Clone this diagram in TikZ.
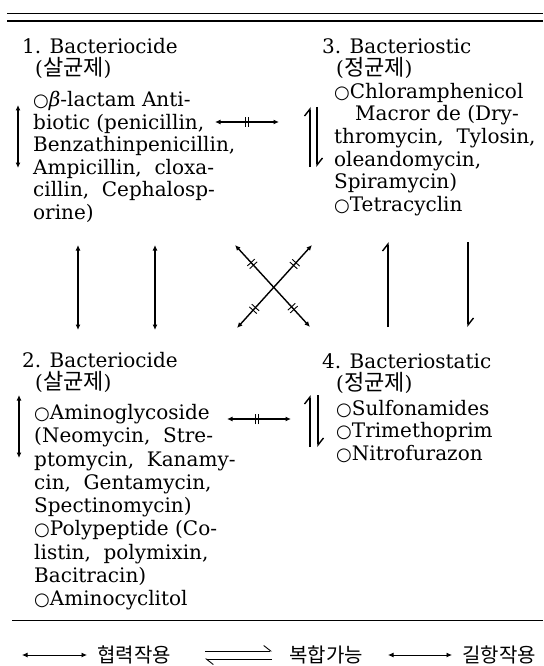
\documentclass[tikz,border=0pt]{standalone}
\usepackage{fontspec}
\setmainfont{DejaVu Serif}
\newfontfamily\kr{Noto Sans CJK KR}
\newfontfamily\symf{DejaVu Sans}
\usetikzlibrary{arrows.meta, decorations.markings}
\newcommand\wc{{\symf\fontsize{18}{22}\selectfont ○}}
\newcommand\hg[1]{{\kr\fontsize{22}{22}\selectfont #1}}
\newcommand\tickpair{\draw[-, line width=.9pt] (-1.8pt,-5pt) -- (-1.8pt,5pt) (1.8pt,-5pt) -- (1.8pt,5pt);}

\begin{document}
\begin{tikzpicture}[x=1pt, y=-1pt,
  txt/.style={anchor=north west, inner sep=0pt, align=left, font=\fontsize{20}{22.6}\selectfont},
  lgd/.style={anchor=base west, inner sep=0pt, font=\fontsize{20}{22}\selectfont\kr},
  syn/.style={{Latex[length=5.5pt,width=5pt]}-{Latex[length=5.5pt,width=5pt]}, line width=1.4pt},
  antag/.style={syn, line width=1.1pt, postaction={decorate}, decoration={markings, mark=at position #1 with {\tickpair}}},
  antagx/.style={syn, postaction={decorate}, decoration={markings, mark=at position .23 with {\tickpair}, mark=at position .77 with {\tickpair}}},
  harp/.style={-{Straight Barb[harpoon, length=7pt, width=11pt]}, line width=1.4pt}]
  \useasboundingbox (0,0) rectangle (543,666);

  % rules
  \draw[line width=.8pt] (7,13) -- (543,13);
  \draw[line width=1.3pt] (7,21) -- (543,21);
  \draw[line width=.9pt] (12,620) -- (543,620);

  % 1
  \node[txt] (t1) at (22,38) {1. Bacteriocide\\\hspace*{13pt}(\hg{살균제})};
  \node[txt] (b1) at (33,91) {\wc{\itshape β}-lactam Anti-\\biotic (penicillin,\\Benzathinpenicillin,\\Ampicillin,\ \ cloxa-\\cillin,\ \ Cephalosp-\\orine)};
  % 3
  \node[txt] (t3) at (322,38) {3. Bacteriostic\\\hspace*{14pt}(\hg{정균제})};
  \node[txt] (b3) at (334,83) {\wc Chloramphenicol\\\hspace*{21pt}Macror de (Dry-\\thromycin,\ \ Tylosin,\\oleandomycin,\\Spiramycin)\\\wc Tetracyclin};
  % 2
  \node[txt] (t2) at (22,352) {2. Bacteriocide\\\hspace*{13pt}(\hg{살균제})};
  \node[txt, font=\fontsize{20}{23.3}\selectfont] (b2) at (34,404) {\wc Aminoglycoside\\(Neomycin,\ \ Stre-\\ptomycin,\ \ Kanamy-\\cin,\ \ Gentamycin,\\Spectinomycin)\\\wc Polypeptide (Co-\\listin,\ \ polymixin,\\Bacitracin)\\\wc Aminocyclitol};
  % 4
  \node[txt] (t4) at (322,353) {4. Bacteriostatic\\\hspace*{14pt}(\hg{정균제})};
  \node[txt] (b4) at (336,400) {\wc Sulfonamides\\\wc Trimethoprim\\\wc Nitrofurazon};

  % arrows in the boxes
  \coordinate (s1a) at (18,105);  \coordinate (s1b) at (18,168);
  \coordinate (s2a) at (19,395);  \coordinate (s2b) at (19,458);
  \draw[syn] (s1a) -- (s1b);
  \draw[syn] (s2a) -- (s2b);
  \coordinate (h3a) at (310,107); \coordinate (h3b) at (310,167);
  \coordinate (h3c) at (317,107); \coordinate (h3d) at (317,167);
  \draw[harp] (h3b) -- (h3a);
  \draw[harp] (h3c) -- (h3d);
  \coordinate (h4a) at (310,395); \coordinate (h4b) at (310,447);
  \coordinate (h4c) at (318,395); \coordinate (h4d) at (318,447);
  \draw[harp] (h4b) -- (h4a);
  \draw[harp] (h4c) -- (h4d);

  % 1-3, 2-4
  \coordinate (a13l) at (215,122); \coordinate (a13r) at (279,122);
  \coordinate (a24l) at (227,419); \coordinate (a24r) at (291,419);
  \draw[antag=.5] (a13l) -- (a13r);
  \draw[antag=.47] (a24l) -- (a24r);

  % 1-2
  \coordinate (v1a) at (78,245);  \coordinate (v1b) at (78,330);
  \coordinate (v2a) at (155,245); \coordinate (v2b) at (155,330);
  \draw[syn] (v1a) -- (v1b);
  \draw[syn] (v2a) -- (v2b);

  % 1-4, 3-2
  \coordinate (x1) at (235,245); \coordinate (x4) at (310,327);
  \coordinate (x3) at (312,245); \coordinate (x2) at (237,328);
  \draw[antagx] (x1) -- (x4);
  \draw[antagx] (x3) -- (x2);

  % 3-4
  \coordinate (v3a) at (388,242); \coordinate (v3b) at (388,327);
  \coordinate (v4a) at (468,242); \coordinate (v4b) at (468,327);
  \draw[harp] (v3b) -- (v3a);
  \draw[harp] (v4a) -- (v4b);

  % legend
  \coordinate (g1a) at (22,655);  \coordinate (g1b) at (87,655);
  \draw[syn, line width=.9pt] (g1a) -- (g1b);
  \node[lgd] (l1) at (97,662) {협력작용};
  \coordinate (g2a) at (205,651); \coordinate (g2b) at (272,651);
  \coordinate (g2c) at (205,659); \coordinate (g2d) at (272,659);
  \draw[harp, line width=.9pt] (g2a) -- (g2b);
  \draw[harp, line width=.9pt] (g2d) -- (g2c);
  \node[lgd] (l2) at (289,662) {복합가능};
  \coordinate (g3a) at (388,655); \coordinate (g3b) at (452,655);
  \draw[syn, line width=.9pt] (g3a) -- (g3b);
  \node[lgd] (l3) at (462,662) {길항작용};
\end{tikzpicture}
\end{document}
